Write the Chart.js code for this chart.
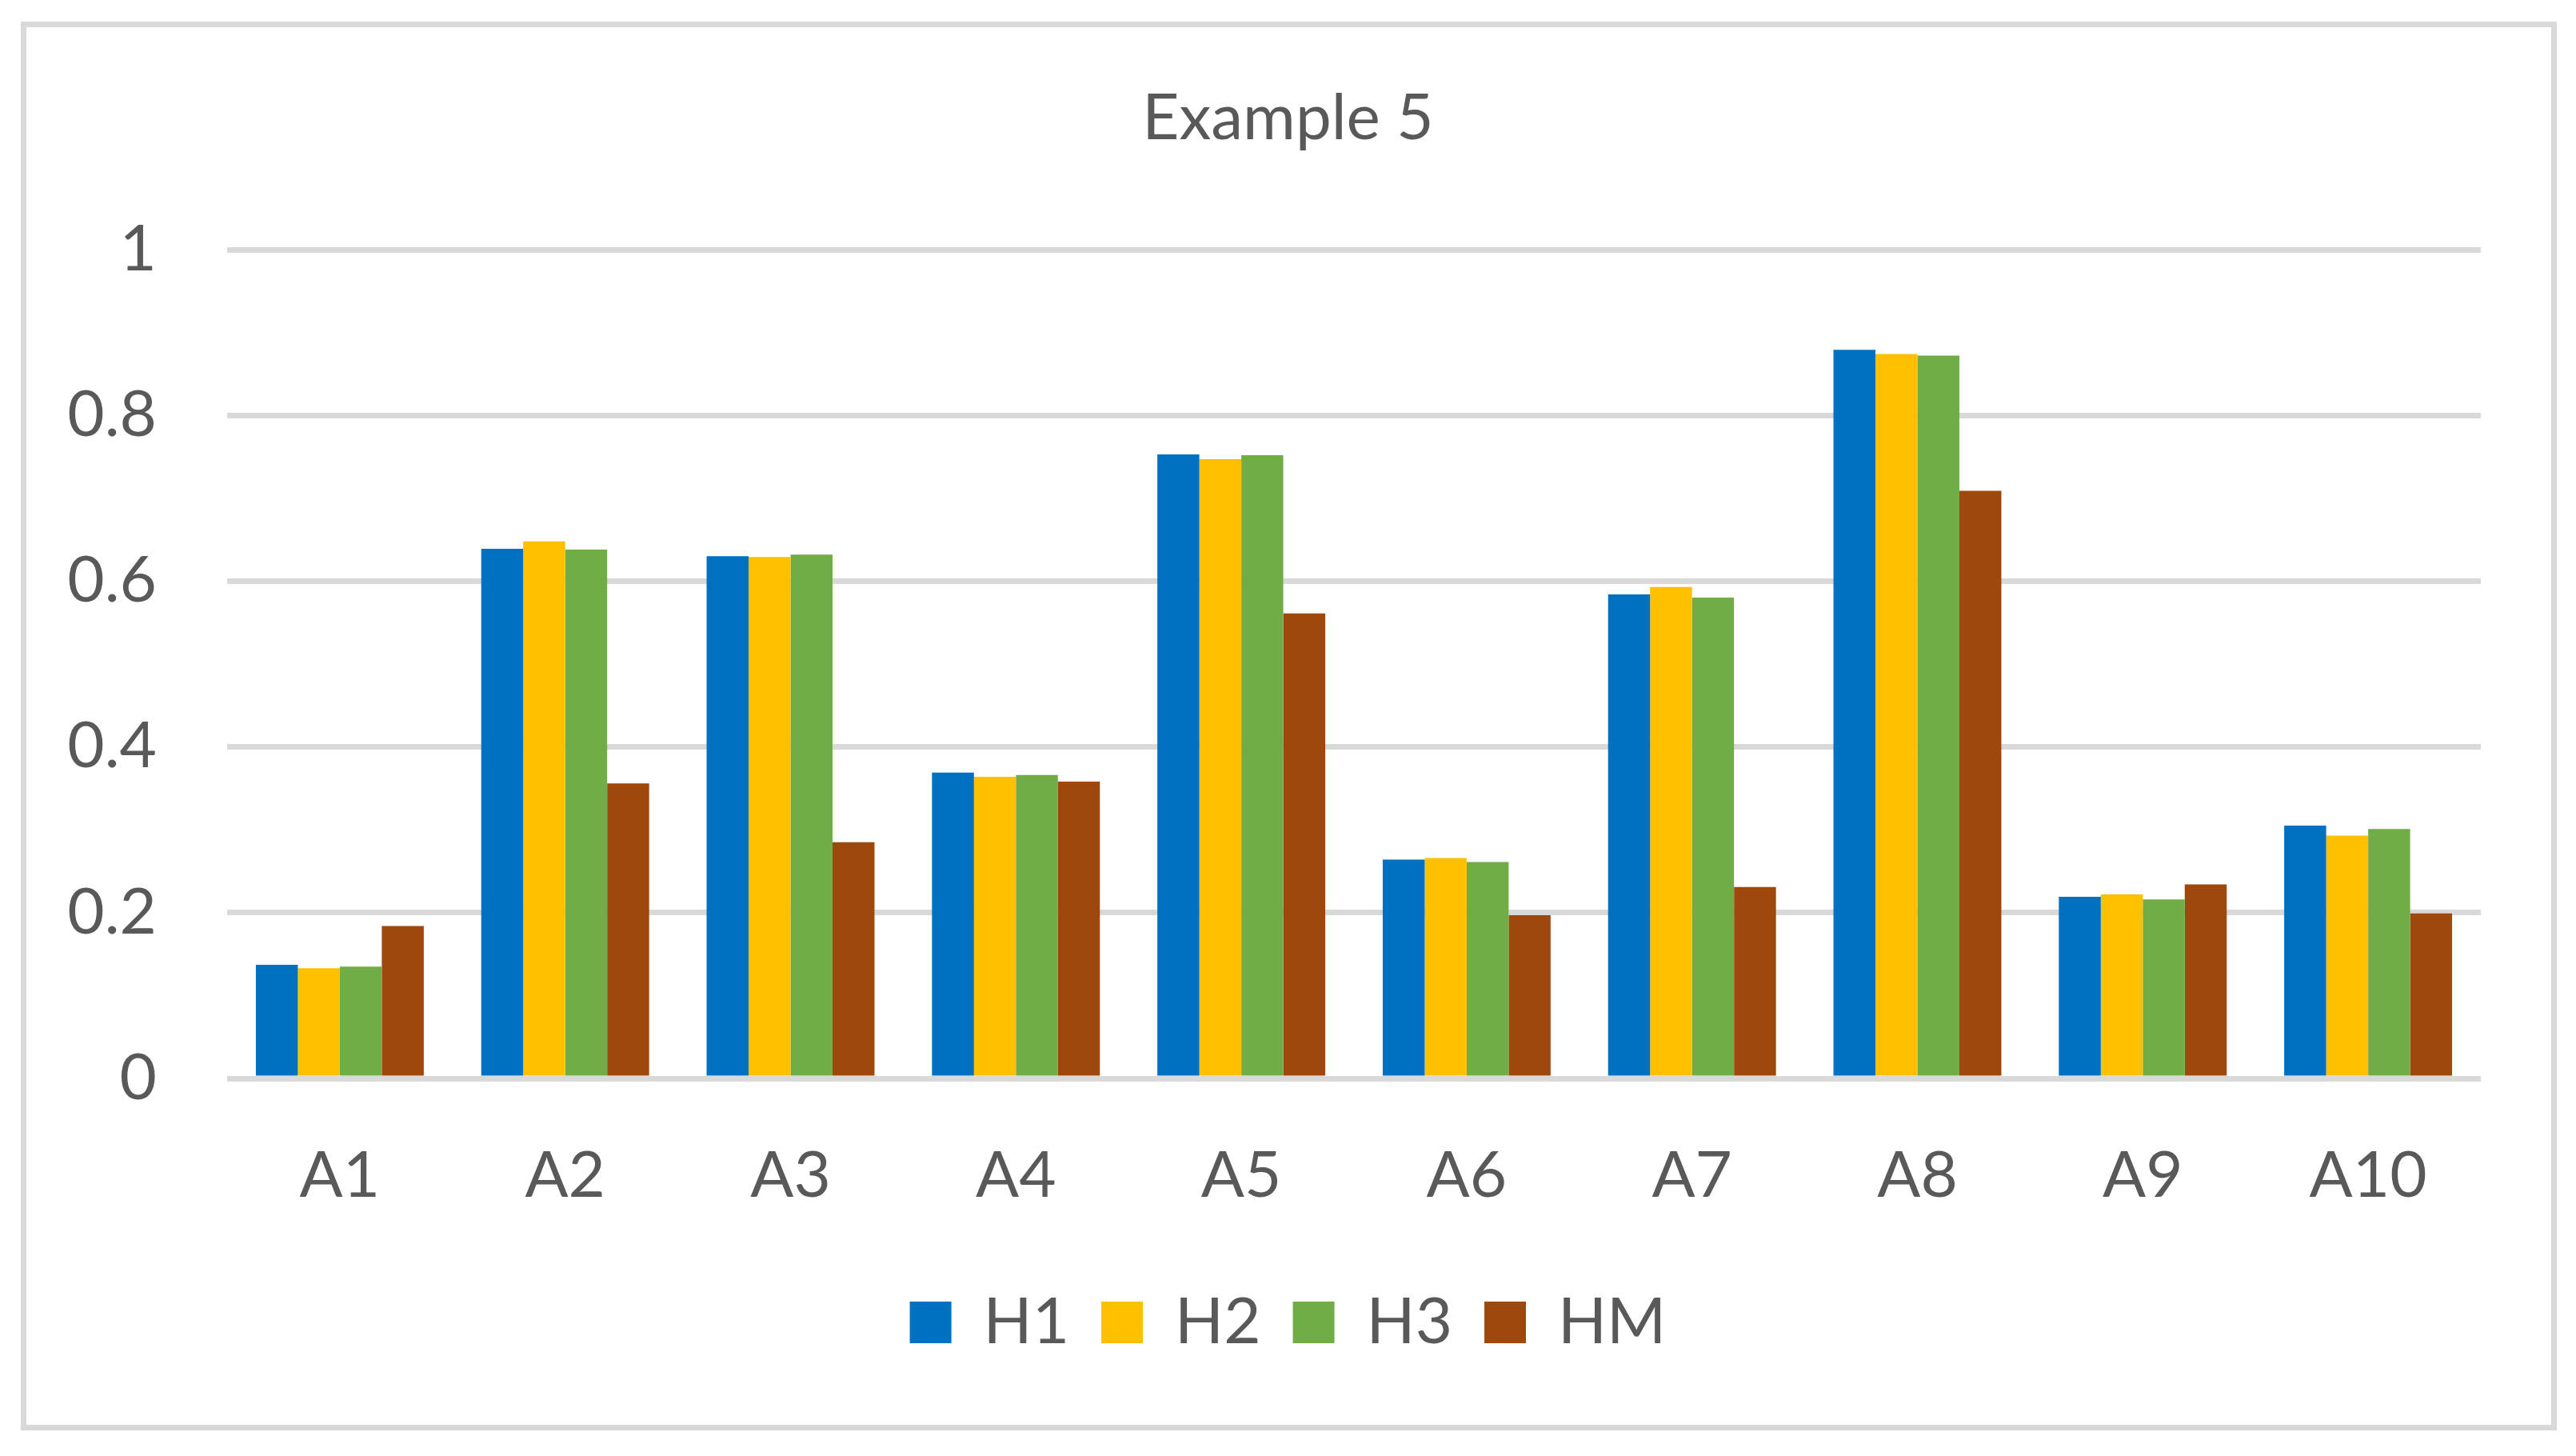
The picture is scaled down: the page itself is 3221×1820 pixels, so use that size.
<!DOCTYPE html>
<html>
<head>
<meta charset="utf-8">
<script src="https://cdn.jsdelivr.net/npm/chart.js@4/dist/chart.umd.min.js"></script>
<style>
  html, body { margin: 0; padding: 0; background: #fff; }
  #wrap { position: relative; width: 3221px; height: 1820px; }
  #frame {
    position: absolute; left: 26px; top: 27px; width: 3157px; height: 1747px;
    border: 7px solid #d9d9d9; pointer-events: none;
  }
</style>
</head>
<body>
<div id="wrap">
  <canvas id="chart" width="3221" height="1820"></canvas>
  <div id="frame"></div>
</div>
<script>
const categories = ["A1", "A2", "A3", "A4", "A5", "A6", "A7", "A8", "A9", "A10"];
const h1 = [0.137, 0.639, 0.630, 0.369, 0.753, 0.264, 0.584, 0.879, 0.219, 0.305];
const h2 = [0.133, 0.648, 0.629, 0.364, 0.747, 0.266, 0.593, 0.874, 0.222, 0.293];
const h3 = [0.135, 0.638, 0.632, 0.366, 0.752, 0.261, 0.580, 0.872, 0.216, 0.301];
const hm = [0.184, 0.356, 0.285, 0.358, 0.561, 0.197, 0.231, 0.709, 0.234, 0.199];
const seriesNames = ["H1", "H2", "H3", "HM"];
const colors = ["#0070C0", "#FFC000", "#70AD47", "#9E480E"];
const yTickLabels = ["0", "0.2", "0.4", "0.6", "0.8", "1"];

const font = { family: "Lato", size: 80 };
const textColor = "#595959";

const datasets = [h1, h2, h3, hm].map((data, i) => ({
  label: seriesNames[i],
  data,
  backgroundColor: colors[i],
  borderWidth: 0,
  categoryPercentage: 0.745,
  barPercentage: 1.0,
}));

new Chart(document.getElementById("chart").getContext("2d"), {
  type: "bar",
  data: { labels: categories, datasets },
  options: {
    responsive: false,
    devicePixelRatio: 1,
    animation: false,
    layout: { padding: { left: 34, right: 34, top: 34, bottom: 117 } },
    scales: {
      x: {
        grid: { display: false },
        border: { display: false },
        ticks: { color: textColor, font, padding: 66, maxRotation: 0 },
        afterFit: (axis) => { axis.height = 225; },
      },
      y: {
        min: 0,
        max: 1,
        grid: { color: "#d9d9d9", lineWidth: 7, drawTicks: false },
        border: { display: false },
        ticks: {
          stepSize: 0.2,
          color: textColor,
          font,
          padding: 88,
          callback: (v, i) => yTickLabels[i],
        },
        afterFit: (axis) => { axis.width = 250; },
      },
      // empty right-hand spacer so the title and legend centre on the frame
      yRight: {
        position: "right",
        min: 0,
        max: 1,
        grid: { display: false },
        border: { display: false },
        ticks: { display: false },
        afterFit: (axis) => { axis.width = 85; },
      },
    },
    plugins: {
      title: {
        display: true,
        text: "Example 5",
        color: textColor,
        font: { family: "Lato", size: 80, weight: "normal" },
        padding: { top: 66, bottom: 116 },
      },
      legend: {
        position: "bottom",
        labels: {
          color: textColor,
          font,
          boxWidth: 52,
          boxHeight: 52,
          padding: 40,
        },
      },
      tooltip: { enabled: false },
    },
  },
});
</script>
</body>
</html>
